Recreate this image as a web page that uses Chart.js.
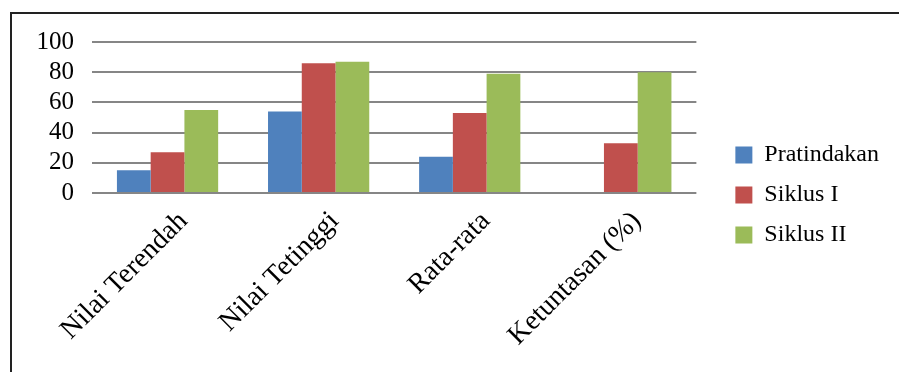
<!DOCTYPE html>
<html>
<head>
<meta charset="utf-8">
<script src="https://cdn.jsdelivr.net/npm/chart.js@4"></script>
<style>
  body { margin: 0; background: #fff; }
  #wrap { width: 899px; height: 372px; position: relative; }
</style>
</head>
<body>
<div id="wrap"><canvas id="barChart"></canvas></div>
<script>
const categories = ['Nilai Terendah', 'Nilai Tetinggi', 'Rata-rata', 'Ketuntasan (%)'];
const pratindakan = [15, 54, 24, null];
const siklus1 = [27, 86, 53, 33];
const siklus2 = [55, 87, 79, 80];
const yTicks = [0, 20, 40, 60, 80, 100];

// frame around the figure (top and left edge visible)
const framePlugin = {
    id: 'frame',
    beforeDraw(chart) {
        const c = chart.ctx;
        c.save();
        c.strokeStyle = '#222';
        c.lineWidth = 2;
        c.beginPath();
        c.moveTo(11, 400);
        c.lineTo(11, 13);
        c.lineTo(905, 13);
        c.stroke();
        c.restore();
    }
};

// leave a wider gap between the plot and the legend, move legend up a bit
const LEGEND_GAP = 23;
const legendShift = {
    id: 'legendShift',
    beforeLayout(chart) {
        const lg = chart.legend;
        if (lg && !lg._patched) {
            const fit = lg.fit.bind(lg);
            lg.fit = function () { fit(); this.width += LEGEND_GAP; };
            lg._patched = true;
        }
    },
    afterLayout(chart) {
        const lg = chart.legend;
        if (lg) {
            lg.left += LEGEND_GAP;
            lg.top -= 12;
            lg.bottom -= 12;
        }
    }
};

var ctx = document.getElementById('barChart').getContext('2d');
var myChart = new Chart(ctx, {
    type: 'bar',
    data: {
        labels: categories,
        datasets: [
            { label: 'Pratindakan', data: pratindakan, backgroundColor: '#4F81BD' },
            { label: 'Siklus I', data: siklus1, backgroundColor: '#C0504D' },
            { label: 'Siklus II', data: siklus2, backgroundColor: '#9BBB59' }
        ]
    },
    options: {
        responsive: true,
        maintainAspectRatio: false,
        animation: false,
        categoryPercentage: 0.67,
        barPercentage: 1.0,
        layout: { padding: { top: 42, left: 0, right: 10, bottom: 0 } },
        plugins: {
            legend: {
                position: 'right',
                labels: {
                    boxWidth: 17,
                    boxHeight: 17,
                    padding: 16,
                    color: '#000',
                    font: { family: 'Liberation Serif', size: 24 }
                }
            },
            tooltip: { enabled: false }
        },
        scales: {
            x: {
                grid: { display: false },
                border: { display: false },
                ticks: {
                    color: '#000',
                    maxRotation: 45,
                    minRotation: 45,
                    padding: 4,
                    labelOffset: 16,
                    font: { family: 'Liberation Serif', size: 28 }
                },
                afterFit: function (scale) { scale.height = 179; }
            },
            y: {
                min: 0,
                max: 100,
                afterBuildTicks: function (scale) {
                    scale.ticks = yTicks.map(v => ({ value: v }));
                },
                grid: { color: '#868686', lineWidth: 2, drawTicks: false },
                border: { display: false },
                ticks: {
                    color: '#000',
                    padding: 18,
                    autoSkip: false,
                    font: { family: 'Liberation Serif', size: 25 }
                },
                afterFit: function (scale) { scale.width = 92; }
            }
        }
    },
    plugins: [framePlugin, legendShift]
});
</script>
</body>
</html>
